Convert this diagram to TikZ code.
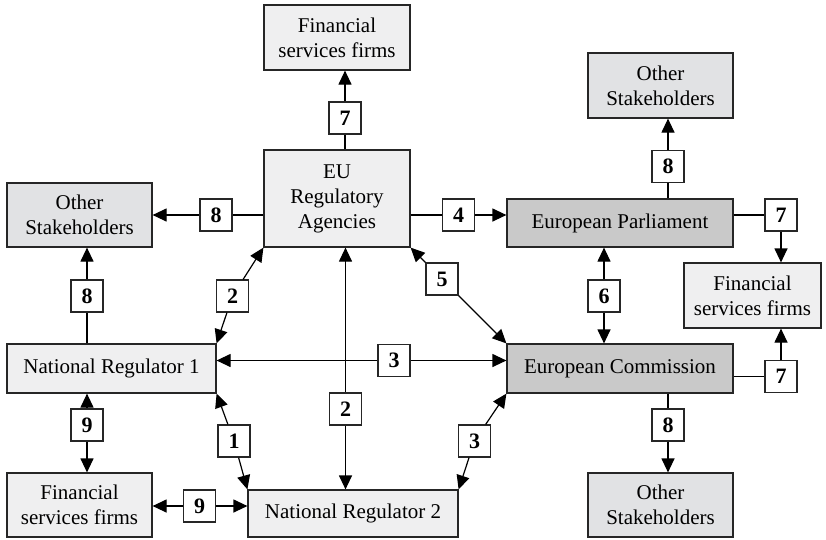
\documentclass[tikz,border=0pt]{standalone}
\usepackage{fontspec}
\setmainfont{Liberation Serif}
\usetikzlibrary{arrows.meta}

\definecolor{paleGray}{HTML}{EFEFF0}
\definecolor{midGray}{HTML}{E1E2E4}
\definecolor{darkGray}{HTML}{C9C9C9}

\begin{document}
\begin{tikzpicture}[
    x=1pt, y=-1pt,
    >={Triangle[length=14pt,width=13pt]},
    line width=1.2pt,
    box/.style={
        rectangle,
        draw=black!85,
        fill=#1,
        font=\fontsize{21}{25}\selectfont,
        align=center,
        inner sep=0pt
    },
    num/.style={
        rectangle,
        draw=black!85,
        fill=white,
        minimum size=32pt,
        inner sep=0pt,
        font=\fontsize{22}{25}\selectfont\bfseries
    }
]
\useasboundingbox (0,0) rectangle (826,539);

% Actors
\node[box=paleGray, minimum width=146, minimum height=65] (fsfTop)   at (337,37.5)    {Financial\\services firms};
\node[box=paleGray, minimum width=146, minimum height=97] (eu)       at (337,198.5)   {EU\\Regulatory\\Agencies};
\node[box=midGray,  minimum width=145, minimum height=64] (osLeft)   at (79.5,215)    {Other\\Stakeholders};
\node[box=midGray,  minimum width=145, minimum height=65] (osTop)    at (660.5,85.5)  {Other\\Stakeholders};
\node[box=darkGray, minimum width=226, minimum height=48] (ep)       at (620,223)     {European Parliament};
\node[box=paleGray, minimum width=137, minimum height=65] (fsfRight) at (752.5,295.5) {Financial\\services firms};
\node[box=paleGray, minimum width=209, minimum height=49] (nr1)      at (111.5,368.5) {National Regulator 1};
\node[box=darkGray, minimum width=226, minimum height=49] (ec)       at (620,368.5)   {European Commission};
\node[box=paleGray, minimum width=145, minimum height=64] (fsfLeft)  at (79.5,505)    {Financial\\services firms};
\node[box=paleGray, minimum width=210, minimum height=47] (nr2)      at (353,513.5)   {National Regulator 2};
\node[box=midGray,  minimum width=145, minimum height=64] (osBot)    at (660.5,505)   {Other\\Stakeholders};

% Numbered channels
\node[num] (l7top) at (345,118)   {7};
\node[num] (l8left) at (216,215)  {8};
\node[num] (l4)    at (458.5,215) {4};
\node[num] (l8top) at (668,166.5) {8};
\node[num] (l7ep)  at (781,215)   {7};
\node[num] (l8nr1) at (87,296)    {8};
\node[num] (l2a)   at (232.5,296) {2};
\node[num] (l5)    at (442,279)   {5};
\node[num] (l6)    at (604,296)   {6};
\node[num] (l3a)   at (394,360.5) {3};
\node[num] (l2b)   at (345.5,409) {2};
\node[num] (l9a)   at (87,425)    {9};
\node[num] (l1)    at (234,441)   {1};
\node[num] (l3b)   at (474.5,441) {3};
\node[num] (l8ec)  at (668,425)   {8};
\node[num] (l7ec)  at (781,376.5) {7};
\node[num] (l9b)   at (199.5,506) {9};

% EU agencies
\draw (eu.north -| l7top) -- (l7top);
\draw[->] (l7top) -- (fsfTop.south -| l7top);
\draw (eu.west |- l8left) -- (l8left);
\draw[->] (l8left) -- (osLeft.east |- l8left);
\draw (eu.east |- l4) -- (l4);
\draw[->] (l4) -- (ep.west |- l4);
\draw[<-] (eu.south west) -- (l2a);
\draw[->] (l2a) -- (nr1.north east);
\draw[<-] (eu.south -| l2b) -- (l2b);
\draw[->] (l2b) -- (nr2.north -| l2b);
\draw[<-] (eu.south east) -- (l5);
\draw[->] (l5) -- (ec.north west);

% Parliament
\draw (ep.north -| l8top) -- (l8top);
\draw[->] (l8top) -- (osTop.south -| l8top);
\draw (ep.east |- l7ep) -- (l7ep);
\draw[->] (l7ep) -- (fsfRight.north -| l7ep);
\draw[<-] (ep.south -| l6) -- (l6);
\draw[->] (l6) -- (ec.north -| l6);

% Commission
\draw (ec.east |- l7ec) -- (l7ec);
\draw[->] (l7ec) -- (fsfRight.south -| l7ec);
\draw (ec.south -| l8ec) -- (l8ec);
\draw[->] (l8ec) -- (osBot.north -| l8ec);

% National regulators
\draw[<-] (nr1.east |- l3a) -- (l3a);
\draw[->] (l3a) -- (ec.west |- l3a);
\draw[<-] (nr1.south east) -- (l1);
\draw[->] (l1) -- (nr2.north west);
\draw[<-] (nr2.north east) -- (l3b);
\draw[->] (l3b) -- (ec.south west);
\draw (nr1.north -| l8nr1) -- (l8nr1);
\draw[->] (l8nr1) -- (osLeft.south -| l8nr1);
\draw[<-] (nr1.south -| l9a) -- (l9a);
\draw[->] (l9a) -- (fsfLeft.north -| l9a);
\draw[<-] (fsfLeft.east |- l9b) -- (l9b);
\draw[->] (l9b) -- (nr2.west |- l9b);

\end{tikzpicture}
\end{document}
